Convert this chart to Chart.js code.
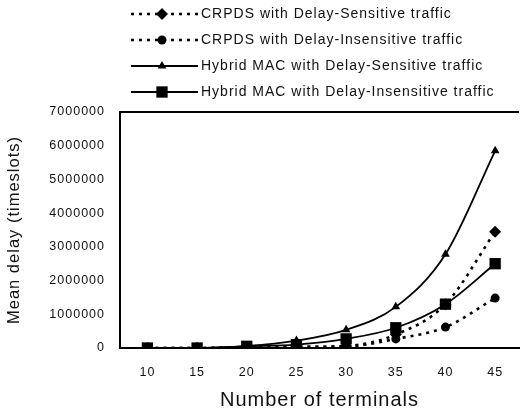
<!DOCTYPE html>
<html>
<head>
<meta charset="utf-8">
<script src="https://cdn.jsdelivr.net/npm/chart.js@4/dist/chart.umd.min.js"></script>
<style>
  html, body { margin: 0; padding: 0; background: #fff; }
  #wrap { width: 527px; height: 414px; }
</style>
</head>
<body>
<div id="wrap"><canvas id="delayChart"></canvas></div>
<script>
const terminals = [10, 15, 20, 25, 30, 35, 40, 45];
const crpdsSensitive = [0, 0, 20000, 40000, 60000, 400000, 1300000, 3450000];
const crpdsInsensitive = [0, 0, 10000, 20000, 40000, 270000, 620000, 1480000];
const hybridSensitive = [0, 0, 60000, 220000, 540000, 1220000, 2780000, 5850000];
const hybridInsensitive = [0, 0, 50000, 100000, 270000, 600000, 1300000, 2500000];
const yTicks = [0, 1000000, 2000000, 3000000, 4000000, 5000000, 6000000, 7000000];

const seriesLabels = [
    'CRPDS with Delay-Sensitive traffic',
    'CRPDS with Delay-Insensitive traffic',
    'Hybrid MAC with Delay-Sensitive traffic',
    'Hybrid MAC with Delay-Insensitive traffic'
];

const FONT = '"Liberation Sans", Arial, sans-serif';
const toPoints = vals => terminals.map((t, i) => ({ x: t, y: vals[i] }));

function makeSet(label, vals, marker, radius, dashed, order) {
    return {
        label: label,
        data: toPoints(vals),
        borderColor: '#000',
        backgroundColor: '#000',
        borderWidth: dashed ? 2.6 : 1.8,
        borderDash: dashed ? [3, 5] : [],
        pointStyle: marker,
        pointRadius: radius,
        pointHoverRadius: radius,
        pointBorderWidth: 0,
        cubicInterpolationMode: 'monotone',
        order: order
    };
}

// the scanned figure has wide letter spacing; canvas state resets on resize so set it each pass
const spacing = {
    id: 'spacing',
    beforeLayout(chart) { chart.ctx.letterSpacing = '1px'; },
    beforeDraw(chart) { chart.ctx.letterSpacing = '1px'; }
};

// top edge of the frame
const frameTop = {
    id: 'frameTop',
    afterDraw(chart) {
        const { ctx, chartArea } = chart;
        ctx.save();
        ctx.strokeStyle = '#000';
        ctx.lineWidth = 2;
        ctx.beginPath();
        ctx.moveTo(chartArea.left - 1, chartArea.top);
        ctx.lineTo(chartArea.right, chartArea.top);
        ctx.stroke();
        ctx.restore();
    }
};

// legend drawn by hand so each entry shows the line sample with its marker
const lineLegend = {
    id: 'lineLegend',
    afterDraw(chart) {
        const ctx = chart.ctx;
        const rows = [14, 40, 66, 92];
        chart.data.datasets.forEach((ds, i) => {
            const y = rows[i];
            ctx.save();
            ctx.strokeStyle = '#000';
            ctx.lineWidth = ds.borderWidth;
            ctx.setLineDash(ds.borderDash);
            ctx.beginPath();
            ctx.moveTo(131, y);
            ctx.lineTo(198, y);
            ctx.stroke();
            ctx.setLineDash([]);
            Chart.helpers.drawPoint(ctx, {
                pointStyle: ds.pointStyle,
                radius: ds.pointRadius,
                borderWidth: 0
            }, 162, y);
            ctx.fillStyle = '#111';
            ctx.letterSpacing = '1px';
            ctx.font = '14px ' + FONT;
            ctx.textBaseline = 'middle';
            ctx.fillText(ds.label, 201, y);
            ctx.restore();
        });
    }
};

new Chart(document.getElementById('delayChart'), {
    type: 'line',
    data: {
        datasets: [
            makeSet(seriesLabels[0], crpdsSensitive, 'rectRot', 6, true, 2),
            makeSet(seriesLabels[1], crpdsInsensitive, 'circle', 4.5, true, 3),
            makeSet(seriesLabels[2], hybridSensitive, 'triangle', 5, false, 1),
            makeSet(seriesLabels[3], hybridInsensitive, 'rect', 8, false, 0)
        ]
    },
    plugins: [spacing, frameTop, lineLegend],
    options: {
        responsive: true,
        maintainAspectRatio: false,
        animation: false,
        layout: { padding: { top: 112, right: 0, left: 0, bottom: 0 } },
        plugins: {
            legend: { display: false },
            tooltip: { enabled: false }
        },
        scales: {
            x: {
                type: 'linear',
                min: 7.24,
                max: 47.4,
                afterBuildTicks: axis => { axis.ticks = terminals.map(v => ({ value: v })); },
                afterFit: axis => { axis.height = 66; },
                grid: { display: false, drawTicks: false },
                border: { display: true, color: '#000', width: 2 },
                ticks: {
                    color: '#111',
                    padding: 17,
                    maxRotation: 0,
                    font: { family: FONT, size: 12.5 }
                },
                title: {
                    display: true,
                    text: 'Number of terminals',
                    color: '#111',
                    padding: { top: 0, bottom: 2 },
                    font: { family: FONT, size: 20 }
                }
            },
            y: {
                min: 0,
                max: 7000000,
                afterBuildTicks: axis => { axis.ticks = yTicks.map(v => ({ value: v })); },
                afterFit: axis => { axis.width = 120; },
                grid: { display: false, drawTicks: false },
                border: { display: true, color: '#000', width: 2 },
                ticks: {
                    color: '#111',
                    padding: 15,
                    callback: v => String(v),
                    font: { family: FONT, size: 12.5 }
                },
                title: {
                    display: true,
                    text: 'Mean delay (timeslots)',
                    color: '#111',
                    padding: { top: 5, bottom: 0 },
                    font: { family: FONT, size: 16.5 }
                }
            }
        }
    }
});
</script>
</body>
</html>
